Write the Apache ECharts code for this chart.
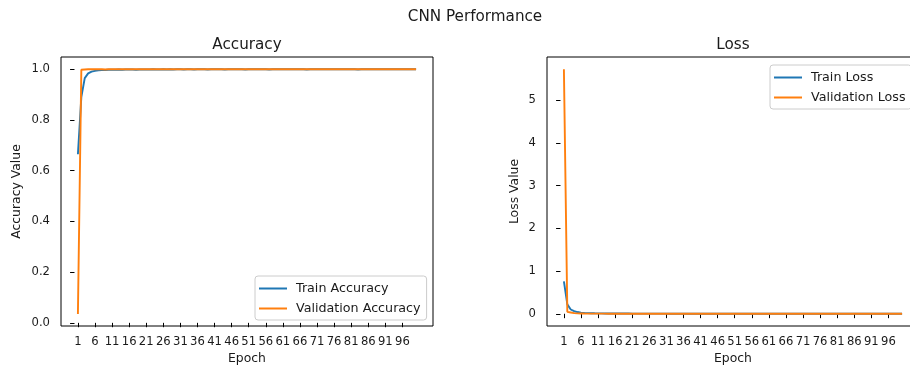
<!DOCTYPE html>
<html>
<head>
<meta charset="utf-8">
<script src="https://cdn.jsdelivr.net/npm/echarts@6/dist/echarts.min.js"></script>
<style>
  html, body { margin: 0; padding: 0; background: #fff; }
  #chart { width: 910px; height: 367px; }
</style>
</head>
<body>
<div id="chart"></div>
<script>
// epochs 1..100, ticks every 5 epochs
const epochTicks = [1, 6, 11, 16, 21, 26, 31, 36, 41, 46, 51, 56, 61, 66, 71, 76, 81, 86, 91, 96]
const accTicks = [0, 0.2, 0.4, 0.6, 0.8, 1.0]
const lossTicks = [0, 1, 2, 3, 4, 5]

const trainAcc = [
  0.665, 0.890, 0.965, 0.984, 0.991, 0.994, 0.996, 0.997, 0.997, 0.998,
  0.998, 0.998, 0.999, 0.998, 0.999, 0.999, 0.999, 0.998, 0.999, 0.999,
  0.999, 0.999, 1.000, 0.999, 0.999, 1.000, 0.999, 1.000, 0.999, 1.000,
  1.000, 0.999, 1.000, 1.000, 0.999, 1.000, 1.000, 1.000, 0.999, 1.000,
  1.000, 1.000, 1.000, 0.999, 1.000, 1.000, 1.000, 1.000, 1.000, 0.999,
  1.000, 1.000, 1.000, 1.000, 1.000, 1.000, 0.999, 1.000, 1.000, 1.000,
  1.000, 1.000, 1.000, 1.000, 1.000, 1.000, 1.000, 0.999, 1.000, 1.000,
  1.000, 1.000, 1.000, 1.000, 1.000, 1.000, 1.000, 1.000, 1.000, 1.000,
  1.000, 1.000, 0.999, 1.000, 1.000, 1.000, 1.000, 1.000, 1.000, 1.000,
  1.000, 1.000, 1.000, 1.000, 1.000, 1.000, 1.000, 1.000, 1.000, 1.000
]
const valAcc = [
  0.035, 0.998, 0.999, 1.000, 1.000, 1.000, 1.000, 1.000, 0.999, 1.000,
  1.000, 1.000, 1.000, 1.000, 1.000, 1.000, 1.000, 1.000, 1.000, 1.000,
  1.000, 1.000, 1.000, 1.000, 1.000, 1.000, 1.000, 1.000, 1.000, 1.000,
  1.000, 1.000, 1.000, 1.000, 1.000, 1.000, 1.000, 1.000, 1.000, 1.000,
  1.000, 1.000, 1.000, 1.000, 1.000, 1.000, 1.000, 1.000, 1.000, 1.000,
  1.000, 1.000, 1.000, 1.000, 1.000, 1.000, 1.000, 1.000, 1.000, 1.000,
  1.000, 1.000, 1.000, 1.000, 1.000, 1.000, 1.000, 1.000, 1.000, 1.000,
  1.000, 1.000, 1.000, 1.000, 1.000, 1.000, 1.000, 1.000, 1.000, 1.000,
  1.000, 1.000, 1.000, 1.000, 1.000, 1.000, 1.000, 1.000, 1.000, 1.000,
  1.000, 1.000, 1.000, 1.000, 1.000, 1.000, 1.000, 1.000, 1.000, 1.000
]
const trainLoss = [
  0.757, 0.220, 0.100, 0.060, 0.040, 0.028, 0.021, 0.016, 0.013, 0.011,
  0.010, 0.009, 0.008, 0.007, 0.007, 0.006, 0.006, 0.005, 0.005, 0.005,
  0.004, 0.004, 0.004, 0.004, 0.003, 0.003, 0.003, 0.003, 0.003, 0.003,
  0.003, 0.002, 0.002, 0.002, 0.002, 0.002, 0.002, 0.002, 0.002, 0.002,
  0.002, 0.002, 0.002, 0.002, 0.002, 0.001, 0.001, 0.001, 0.001, 0.001,
  0.001, 0.001, 0.001, 0.001, 0.001, 0.001, 0.001, 0.001, 0.001, 0.001,
  0.001, 0.001, 0.001, 0.001, 0.001, 0.001, 0.001, 0.001, 0.001, 0.001,
  0.001, 0.001, 0.001, 0.001, 0.001, 0.001, 0.001, 0.001, 0.001, 0.001,
  0.001, 0.001, 0.001, 0.001, 0.001, 0.001, 0.001, 0.001, 0.001, 0.001,
  0.001, 0.001, 0.001, 0.001, 0.001, 0.001, 0.001, 0.001, 0.001, 0.001
]
const valLoss = [
  5.720, 0.045, 0.030, 0.015, 0.009, 0.007, 0.005, 0.004, 0.004, 0.003,
  0.003, 0.003, 0.003, 0.002, 0.002, 0.002, 0.002, 0.002, 0.002, 0.002,
  0.002, 0.002, 0.002, 0.002, 0.002, 0.002, 0.001, 0.001, 0.001, 0.001,
  0.001, 0.001, 0.001, 0.001, 0.001, 0.001, 0.001, 0.001, 0.001, 0.001,
  0.001, 0.001, 0.001, 0.001, 0.001, 0.001, 0.001, 0.001, 0.001, 0.001,
  0.001, 0.001, 0.001, 0.001, 0.001, 0.001, 0.001, 0.001, 0.001, 0.001,
  0.001, 0.001, 0.001, 0.001, 0.001, 0.001, 0.001, 0.001, 0.001, 0.001,
  0.001, 0.001, 0.001, 0.001, 0.001, 0.001, 0.001, 0.001, 0.001, 0.001,
  0.001, 0.001, 0.001, 0.001, 0.001, 0.001, 0.001, 0.001, 0.001, 0.001,
  0.001, 0.001, 0.001, 0.001, 0.001, 0.001, 0.001, 0.001, 0.001, 0.001
]

const FONT = 'DejaVu Sans'
const TXT = '#1a1a1a'
const BLUE = '#1f77b4'
const ORANGE = '#ff7f0e'
const TICK_SIZE = 11.6

function withEpochs(values) {
  return values.map((v, i) => [i + 1, v])
}

function xAxisFor(gridIndex) {
  return {
    type: 'value',
    gridIndex: gridIndex,
    min: -3.95,
    max: 104.95,
    name: 'Epoch',
    nameLocation: 'middle',
    nameGap: 26,
    nameTextStyle: { fontFamily: FONT, fontSize: 12.4, color: TXT },
    axisLine: { show: false },
    splitLine: { show: false },
    axisTick: { show: true, length: 4.4, customValues: epochTicks, lineStyle: { color: '#000', width: 1 } },
    axisLabel: { customValues: epochTicks, margin: 10, fontFamily: FONT, fontSize: TICK_SIZE, color: TXT }
  }
}

function legendFor(names, left, top) {
  return {
    data: names,
    orient: 'vertical', left: left, top: top,
    icon: 'rect', itemWidth: 28, itemHeight: 2, itemGap: 5,
    padding: [5, 6, 4, 4],
    backgroundColor: 'rgba(255,255,255,0.8)', borderColor: '#cccccc', borderWidth: 1, borderRadius: 3,
    textStyle: { fontFamily: FONT, fontSize: 12.7, color: TXT, padding: [0, 0, 0, 4], lineHeight: 15 }
  }
}

function gridAt(left) {
  return {
    left: left, top: 57, width: 372, height: 269,
    outerBoundsMode: 'none', containLabel: false,
    show: true, borderColor: '#000', borderWidth: 1, backgroundColor: 'transparent'
  }
}

const chart = echarts.init(document.getElementById('chart'))
chart.setOption({
  backgroundColor: '#fff',
  animation: false,
  title: [
    { text: 'CNN Performance', left: 475, top: 10, padding: 0, textAlign: 'center',
      textStyle: { fontFamily: FONT, fontSize: 15.2, fontWeight: 'normal', color: TXT } },
    { text: 'Accuracy', left: 247, top: 38, padding: 0, textAlign: 'center',
      textStyle: { fontFamily: FONT, fontSize: 15.2, fontWeight: 'normal', color: TXT } },
    { text: 'Loss', left: 733, top: 38, padding: 0, textAlign: 'center',
      textStyle: { fontFamily: FONT, fontSize: 15.2, fontWeight: 'normal', color: TXT } }
  ],
  grid: [gridAt(61), gridAt(547)],
  legend: [
    legendFor(['Train Accuracy', 'Validation Accuracy'], 255, 276),
    legendFor(['Train Loss', 'Validation Loss'], 770, 65)
  ],
  xAxis: [xAxisFor(0), xAxisFor(1)],
  yAxis: [
    {
      type: 'value', gridIndex: 0, min: -0.0125, max: 1.0485,
      name: 'Accuracy Value', nameLocation: 'middle', nameGap: 38,
      nameTextStyle: { fontFamily: FONT, fontSize: 12.4, color: TXT },
      axisLine: { show: false }, splitLine: { show: false },
      axisTick: { show: true, length: 4.4, customValues: accTicks, lineStyle: { color: '#000', width: 1 } },
      axisLabel: { customValues: accTicks, margin: 11, fontFamily: FONT, fontSize: TICK_SIZE, color: TXT,
        formatter: v => v.toFixed(1) }
    },
    {
      type: 'value', gridIndex: 1, min: -0.286, max: 6.006,
      name: 'Loss Value', nameLocation: 'middle', nameGap: 26,
      nameTextStyle: { fontFamily: FONT, fontSize: 12.4, color: TXT },
      axisLine: { show: false }, splitLine: { show: false },
      axisTick: { show: true, length: 4.4, customValues: lossTicks, lineStyle: { color: '#000', width: 1 } },
      axisLabel: { customValues: lossTicks, margin: 11, fontFamily: FONT, fontSize: TICK_SIZE, color: TXT }
    }
  ],
  series: [
    { name: 'Train Accuracy', type: 'line', xAxisIndex: 0, yAxisIndex: 0, data: withEpochs(trainAcc),
      symbol: 'none', lineStyle: { color: BLUE, width: 1.9 }, itemStyle: { color: BLUE } },
    { name: 'Validation Accuracy', type: 'line', xAxisIndex: 0, yAxisIndex: 0, data: withEpochs(valAcc),
      symbol: 'none', lineStyle: { color: ORANGE, width: 1.9 }, itemStyle: { color: ORANGE } },
    { name: 'Train Loss', type: 'line', xAxisIndex: 1, yAxisIndex: 1, data: withEpochs(trainLoss),
      symbol: 'none', lineStyle: { color: BLUE, width: 1.9 }, itemStyle: { color: BLUE } },
    { name: 'Validation Loss', type: 'line', xAxisIndex: 1, yAxisIndex: 1, data: withEpochs(valLoss),
      symbol: 'none', lineStyle: { color: ORANGE, width: 1.9 }, itemStyle: { color: ORANGE } }
  ]
})
</script>
</body>
</html>
